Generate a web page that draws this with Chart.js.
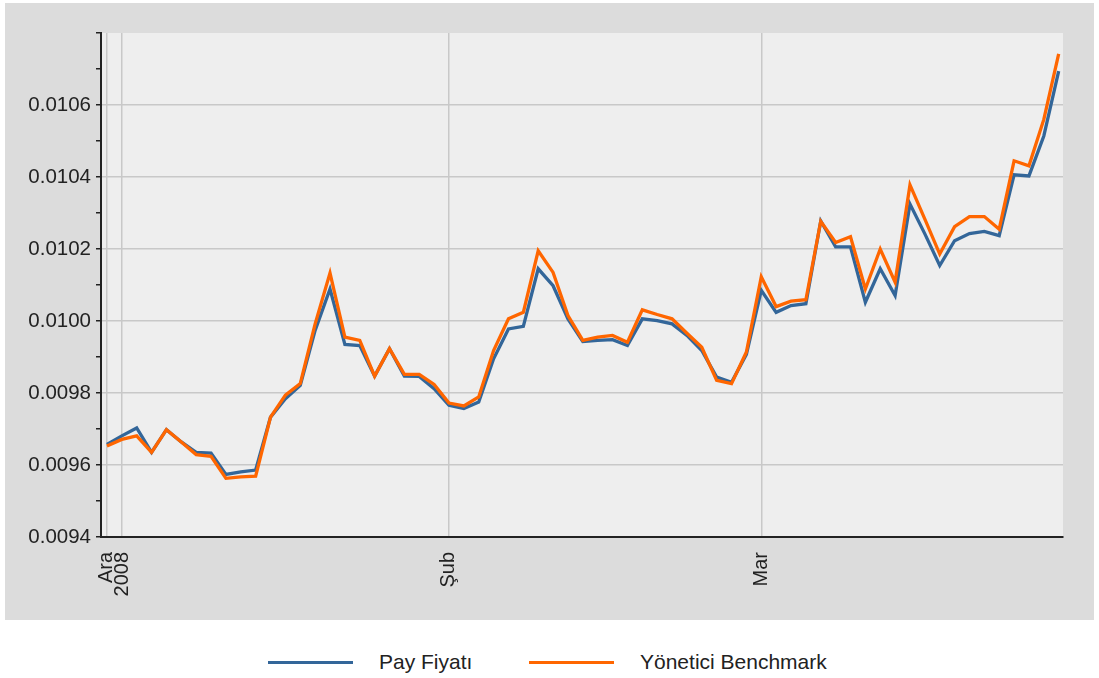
<!DOCTYPE html>
<html lang="tr">
<head>
    <meta charset="UTF-8">
    <title>Pay Fiyatı / Yönetici Benchmark</title>
    <script src="https://cdn.jsdelivr.net/npm/chart.js@4.4.0/dist/chart.umd.min.js"></script>
    <style>
        body {
            margin: 0;
            background: #ffffff;
            font-family: 'Liberation Sans', Arial, sans-serif;
        }
        .chart-box {
            position: absolute;
            left: 5px;
            top: 3px;
            width: 1089px;
            height: 617px;
            background: #dcdcdc;
        }
        .legend-item {
            position: absolute;
            top: 650px;
            height: 24px;
            display: flex;
            align-items: center;
            font-size: 21px;
            color: #222;
        }
        .legend-line {
            display: inline-block;
            width: 85px;
            height: 3px;
            margin-right: 26px;
        }
    </style>
</head>
<body>
    <div class="chart-box">
        <canvas id="chart"></canvas>
    </div>
    <div id="legend"></div>

    <script>
        // trading-day index 0..64 (Ara 2008 -> Mar 2009)
        const payFiyati = [
            0.009657, 0.009681, 0.009703, 0.009635, 0.009698, 0.009664, 0.009635, 0.009633,
            0.009574, 0.009581, 0.009586, 0.009733, 0.009784, 0.009821, 0.009974, 0.010089,
            0.009935, 0.009932, 0.009847, 0.009923, 0.009847, 0.009846, 0.009812, 0.009766,
            0.009757, 0.009775, 0.009895, 0.009978, 0.009985, 0.010145, 0.010098, 0.010006,
            0.009943, 0.009946, 0.009948, 0.009932, 0.010006, 0.010001, 0.009992, 0.009960,
            0.009918, 0.009844, 0.009830, 0.009907, 0.010085, 0.010024, 0.010043, 0.010048,
            0.010278, 0.010206, 0.010206, 0.010052, 0.010145, 0.010071, 0.010325, 0.010242,
            0.010154, 0.010223, 0.010243, 0.010249, 0.010237, 0.010406, 0.010403, 0.010514,
            0.010694
        ];
        const benchmark = [
            0.009653, 0.009671, 0.009681, 0.009635, 0.009698, 0.009664, 0.009629, 0.009624,
            0.009563, 0.009567, 0.009569, 0.009733, 0.009794, 0.009826, 0.009992, 0.010133,
            0.009955, 0.009946, 0.009847, 0.009923, 0.009852, 0.009852, 0.009824, 0.009772,
            0.009764, 0.009789, 0.009918, 0.010006, 0.010024, 0.010195, 0.010135, 0.010015,
            0.009946, 0.009955, 0.009960, 0.009941, 0.010031, 0.010018, 0.010006, 0.009966,
            0.009927, 0.009835, 0.009826, 0.009914, 0.010123, 0.010040, 0.010055, 0.010059,
            0.010277, 0.010218, 0.010234, 0.010089, 0.010200, 0.010108, 0.010378, 0.010283,
            0.010186, 0.010262, 0.010290, 0.010290, 0.010255, 0.010445, 0.010431, 0.010560,
            0.010742
        ];
        const xTickPositions = [0, 1, 23, 44];
        const xTickLabels = [['Ara', '2008'], '', 'Şub', 'Mar'];
        const seriesNames = ['Pay Fiyatı', 'Yönetici Benchmark'];
        const seriesColors = ['#336699', '#ff6600'];

        const toPoints = arr => arr.map((v, i) => ({ x: i, y: v }));

        // grey plot background
        const plotBackground = {
            id: 'plotBackground',
            beforeDraw(chart) {
                const a = chart.chartArea;
                const ctx = chart.ctx;
                ctx.save();
                ctx.fillStyle = '#eeeeee';
                ctx.fillRect(a.left, a.top, a.right - a.left, a.bottom - a.top);
                ctx.restore();
            }
        };

        const fontFamily = "'Liberation Sans', Arial, sans-serif";

        new Chart(document.getElementById('chart'), {
            type: 'line',
            data: {
                datasets: [
                    {
                        label: seriesNames[0],
                        data: toPoints(payFiyati),
                        borderColor: seriesColors[0],
                        backgroundColor: seriesColors[0],
                        borderWidth: 3.3,
                        pointRadius: 0,
                        tension: 0,
                        order: 2
                    },
                    {
                        label: seriesNames[1],
                        data: toPoints(benchmark),
                        borderColor: seriesColors[1],
                        backgroundColor: seriesColors[1],
                        borderWidth: 3.3,
                        pointRadius: 0,
                        tension: 0,
                        order: 1
                    }
                ]
            },
            options: {
                responsive: true,
                maintainAspectRatio: false,
                animation: false,
                layout: { padding: { top: 30, right: 31, bottom: 0, left: 0 } },
                plugins: {
                    legend: { display: false },
                    tooltip: { enabled: false }
                },
                scales: {
                    x: {
                        type: 'linear',
                        min: -0.4,
                        max: 64.29,
                        afterBuildTicks: scale => {
                            scale.ticks = xTickPositions.map(v => ({ value: v }));
                        },
                        afterFit: scale => { scale.height = 83; },
                        ticks: {
                            autoSkip: false,
                            minRotation: 90,
                            maxRotation: 90,
                            padding: 15,
                            color: '#222',
                            font: { family: fontFamily, size: 20, lineHeight: '16px' },
                            callback: (value) => {
                                const k = xTickPositions.indexOf(value);
                                return k >= 0 ? xTickLabels[k] : '';
                            }
                        },
                        grid: {
                            color: '#c8c8c8',
                            lineWidth: 1.5,
                            drawTicks: false
                        },
                        border: { color: '#222', width: 2 }
                    },
                    y: {
                        min: 0.0094,
                        max: 0.0108,
                        afterFit: scale => { scale.width = 96; },
                        ticks: {
                            stepSize: 0.0001,
                            autoSkip: false,
                            padding: 5,
                            color: '#222',
                            font: { family: fontFamily, size: 20.5 },
                            callback: (value) => {
                                const n = Math.round(value * 10000);
                                if (n % 2 !== 0 || n >= 108) return '';
                                return (n / 10000).toFixed(4);
                            }
                        },
                        grid: {
                            color: ctx => {
                                const n = Math.round(ctx.tick.value * 10000);
                                return (n % 2 === 0 && n < 108) ? '#c8c8c8' : 'rgba(0,0,0,0)';
                            },
                            lineWidth: 1.5,
                            tickColor: '#222',
                            tickLength: 5,
                            tickWidth: 1.5
                        },
                        border: { color: '#222', width: 2 }
                    }
                }
            },
            plugins: [plotBackground]
        });

        // legend under the chart
        const legendLefts = [268, 529];
        const legend = document.getElementById('legend');
        seriesNames.forEach((name, i) => {
            const item = document.createElement('div');
            item.className = 'legend-item';
            item.style.left = legendLefts[i] + 'px';
            const line = document.createElement('span');
            line.className = 'legend-line';
            line.style.background = seriesColors[i];
            const text = document.createElement('span');
            text.textContent = name;
            item.appendChild(line);
            item.appendChild(text);
            legend.appendChild(item);
        });
    </script>
</body>
</html>
